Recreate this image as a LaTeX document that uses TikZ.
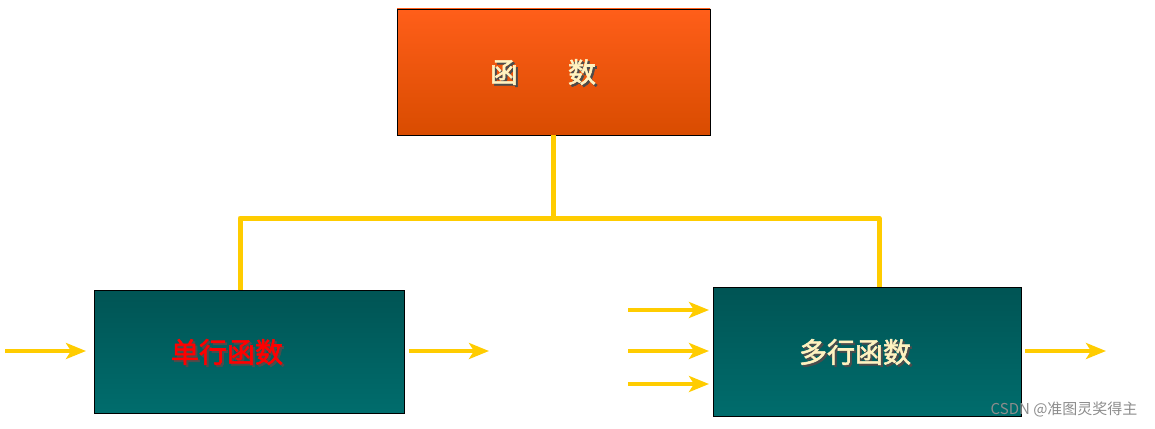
\documentclass[tikz,border=0pt]{standalone}
\usepackage{fontspec}
\newfontfamily\cjk[FakeBold=2]{Noto Sans CJK SC}
\usetikzlibrary{arrows.meta}
\definecolor{linkyellow}{HTML}{FFCC00}
\definecolor{cream}{HTML}{FFF2C0}
\tikzset{
  topbox/.style={draw=black, thin, top color=orange!60!red!90!white, bottom color=orange!70!red!85!black},
  subbox/.style={draw=black, thin, top color=teal!90!cyan!60!black, bottom color=teal!85!black},
  link/.style={draw=linkyellow, line width=5pt, line join=round},
  feed/.style={draw=linkyellow, line width=4pt, -{Stealth[length=20pt,width=16pt,inset=5pt]}},
  label/.style={font=\cjk\fontsize{28}{28}\selectfont}
}
\newcommand{\shadowlabel}[4]{%
  \node[label, text=black!70] at ([shift={(2,2)}]#1) {#3};
  \node[label, text=#2] (#4) at (#1) {#3};}
\begin{document}
\begin{tikzpicture}[x=1pt, y=-1pt]
  \useasboundingbox (0,0) rectangle (1155,428);

  \draw[topbox] (397,9) rectangle (710,135);
  \draw[subbox] (94,290) rectangle (404,413);
  \draw[subbox] (713,287) rectangle (1021,416);

  \coordinate (top) at (553,135);
  \coordinate (mid) at (553,218);
  \coordinate (left) at (240,290);
  \coordinate (right) at (879,287);

  \draw[link] (top) -- (mid);
  \draw[link] (left) -- (left |- mid) -- (right |- mid) -- (right);

  \coordinate (topc) at (543,72);
  \coordinate (leftc) at (227,352);
  \coordinate (rightc) at (855,352);
  \shadowlabel{topc}{cream}{函\hspace{50pt}数}{toptext}
  \shadowlabel{leftc}{red}{单行函数}{lefttext}
  \shadowlabel{rightc}{cream}{多行函数}{righttext}

  % feeds
  \draw[feed] (5,351) -- (86,351);
  \draw[feed] (409,351) -- (489,351);
  \foreach \y in {310,351,384}
    \draw[feed] (628,\y) -- (709,\y);
  \draw[feed] (1025,351) -- (1106,351);

  \node[font=\fontspec{Noto Sans CJK SC}\fontsize{15}{15}\selectfont, text=black!45, anchor=east] (mark) at (1141,409) {CSDN @准图灵奖得主};
\end{tikzpicture}
\end{document}
